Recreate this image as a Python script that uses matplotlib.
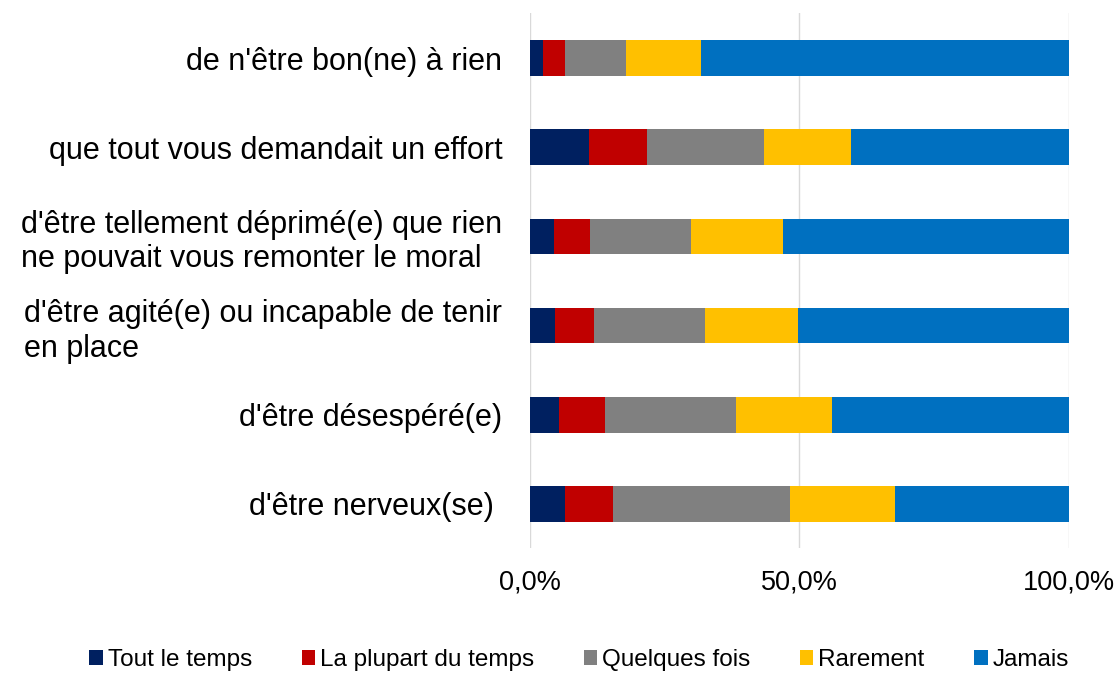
import matplotlib
matplotlib.use("Agg")
import matplotlib.pyplot as plt
from matplotlib.ticker import FuncFormatter
import numpy as np

plt.rcParams['font.family'] = ['Liberation Sans', 'DejaVu Sans']

categories = [
    "de n'être bon(ne) à rien",
    "que tout vous demandait un effort",
    "d'être tellement déprimé(e) que rien\nne pouvait vous remonter le moral",
    "d'être agité(e) ou incapable de tenir\nen place",
    "d'être désespéré(e)",
    "d'être nerveux(se) ",
]
series_names = ["Tout le temps", "La plupart du temps", "Quelques fois", "Rarement", "Jamais"]
tout_le_temps = [2.5, 11.0, 4.5, 4.7, 5.4, 6.5]
plupart = [4.0, 10.7, 6.7, 7.2, 8.5, 9.0]
quelques = [11.3, 21.8, 18.7, 20.6, 24.3, 32.7]
rarement = [13.9, 16.1, 17.1, 17.2, 17.9, 19.5]
jamais = [68.3, 40.4, 53.0, 50.3, 43.9, 32.3]
colors = ["#002060", "#C00000", "#808080", "#FFC000", "#0070C0"]

series = [tout_le_temps, plupart, quelques, rarement, jamais]

fig = plt.figure(figsize=(11.18, 6.73), dpi=100)
ax = fig.add_axes([0.474, 0.185, 0.482, 0.795])

y = np.arange(len(categories))
left = np.zeros(len(categories))
for name, vals, c in zip(series_names, series, colors):
    vals = np.array(vals)
    ax.barh(y, vals, left=left, height=0.4, color=c, label=name, zorder=3)
    left += vals

ax.set_ylim(len(categories) - 0.5, -0.5)
ax.set_xlim(0, 100)
ax.set_xticks([0, 50, 100])
ax.xaxis.set_major_formatter(FuncFormatter(lambda v, p: f"{v:.1f}%".replace('.', ',')))
ax.grid(axis='x', color='#D9D9D9', linewidth=1, zorder=0)
for s in ax.spines.values():
    s.set_visible(False)
ax.tick_params(axis='both', length=0)
ax.tick_params(axis='x', labelsize=19.5, pad=15, colors='#000000')
ax.set_yticks(y)
ax.set_yticklabels(categories, fontsize=22, multialignment='left')
ax.tick_params(axis='y', pad=20)

handles, labels = ax.get_legend_handles_labels()
fig.legend(handles, labels, loc='center', bbox_to_anchor=(0.518, 0.019), ncol=5,
           frameon=False, fontsize=17.5, handlelength=0.55, handleheight=0.55,
           handletextpad=0.2, columnspacing=2.05)

fig.savefig("out.png", dpi=100)
